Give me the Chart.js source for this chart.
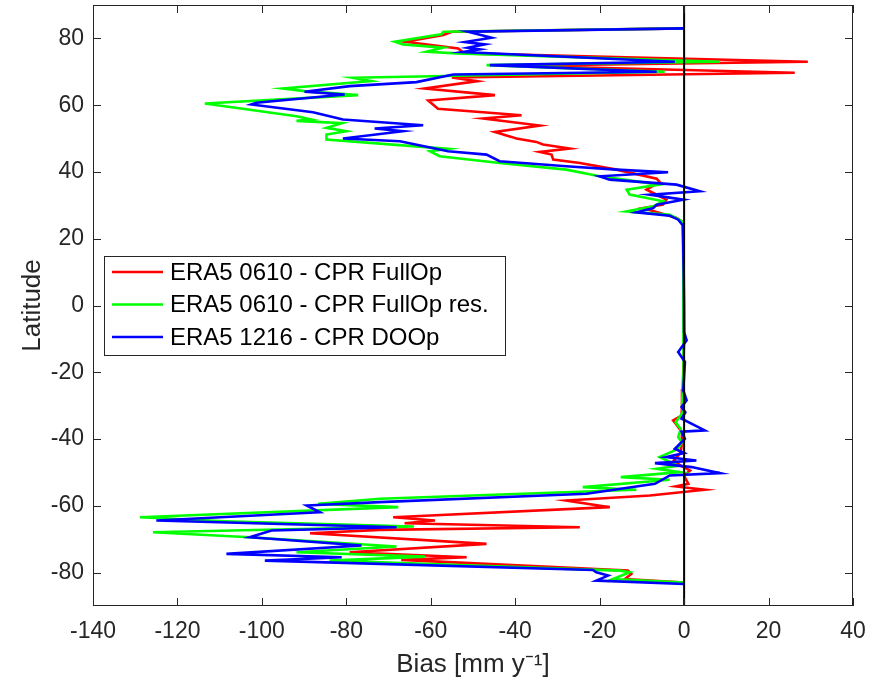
<!DOCTYPE html>
<html>
<head>
<meta charset="utf-8">
<script src="https://cdn.jsdelivr.net/npm/chart.js@4/dist/chart.umd.min.js"></script>
<style>
  html, body { margin: 0; padding: 0; background: #fff; }
</style>
</head>
<body>
<canvas id="chart1" width="885" height="689"></canvas>
<script>
"use strict"

// axis ticks
const xTicks = [-140, -120, -100, -80, -60, -40, -20, 0, 20, 40]
const yTicks = [-80, -60, -40, -20, 0, 20, 40, 60, 80]

const seriesNames = ['ERA5 0610 - CPR FullOp', 'ERA5 0610 - CPR FullOp res.', 'ERA5 1216 - CPR DOOp']

// ERA5 0610 - CPR FullOp (latitude, bias)
const latRed = [83, 82, 81, 79, 77, 75.5, 73, 71.8, 69.7, 68.3, 67.2, 65, 63, 61.4, 58.9, 57, 56, 53.9, 52, 50.5,
    50, 49, 48.2, 47, 46, 45.2, 43.7, 42.7, 40.7, 38, 37, 34.7, 33.7, 31.7, 30.2, 29.2, 26.2, 25, 20, 10,
    0, -10, -20, -25, -30, -33, -34.4, -36.4, -38, -42, -44, -46.4, -48, -49.4, -51, -53.4, -54.2, -55.2, -56.9, -58.4,
    -60.4, -63.4, -64.4, -65.2, -66.4, -67.2, -68.2, -71.4, -73.9, -75.4, -76.2, -79.4, -80.4, -81.9, -83]
const biasRed = [0, -55, -57, -66, -53.5, -52, 29.3, -40, 26.2, -55, -49, -61.4, -44.8, -60.6, -58.3, -38.5, -47.6, -34.2, -44.8, -40.9,
    -39.7, -35, -33.4, -27.1, -34.2, -31.4, -31, -24.7, -16, -6.5, -5.8, -8.9, -7.3, -4.2, -5, -9.7, -1.8, -0.3, -0.2, -0.1,
    -0.1, 0, -0.2, -0.3, -0.5, -0.6, -2.6, -1.4, -0.5, -0.6, -0.8, -2.4, -0.8, 1.4, 0, 1, -2, 4.9, -8.1, -27.9,
    -17.6, -68.9, -59, -66.2, -24.7, -72.1, -88.6, -46.8, -79.2, -51.5, -67, -13.3, -12.5, -14, 0]

// ERA5 0610 - CPR FullOp res.
const latGreen = [83, 82, 81.2, 79, 78.2, 77.2, 76, 75.5, 73, 72, 70, 68.2, 67.2, 65, 64.2, 63, 60.5, 56.7, 55.7, 55.3,
    54.6, 53.2, 52.2, 51.2, 49.7, 47.5, 46.9, 46.2, 44.7, 42.7, 40.7, 38.7, 36.2, 34.7, 33.2, 31.2, 29.7, 28.2, 27.2, 26.2,
    25, 10, 0, -10, -20, -30, -32, -35, -37, -39.4, -41, -43, -45.4, -48, -48.9, -49.9, -51.4, -52.2, -54.4, -55.2,
    -57.9, -59.4, -60.4, -63.4, -64.6, -66.2, -67.9, -69.4, -72.2, -73.9, -75.2, -76.4, -79.4, -79.9, -81.9, -83]
const biasGreen = [0, -57, -57.5, -68.5, -66.6, -57.1, -61, -53.9, 8.5, -46.8, -4.6, -78.4, -74.1, -95, -89.9, -77.2, -113.5, -91.8, -88.3, -91.8,
    -81, -84.7, -80, -84.7, -84.7, -62, -55.9, -60.2, -57.9, -43.7, -27.9, -20, -5.8, -13.6, -12.9, -5, -7.3, -13.6, -3.4, -1.8,
    -0.3, -0.2, -0.1, -0.1, -0.2, -0.5, -0.3, -2, -0.8, -1.4, -0.5, -1.5, -5.8, -1.4, -6.5, -1, -15, -3.4, -24, -11.3,
    -72, -86.7, -67.7, -128.9, -108.8, -64, -125.8, -102.9, -68.1, -91.8, -61.4, -84, -15.2, -12.9, -16.8, 0]

// ERA5 1216 - CPR DOOp
const latBlue = [83, 82, 80.2, 78.9, 78.2, 77.2, 76.7, 75.9, 73, 72, 70, 69.2, 66.9, 65.7, 64, 63.2, 60.7, 60.2, 57.9, 55.7,
    54, 53, 52.2, 50, 49.2, 46.2, 45.2, 43.2, 41.7, 40.7, 39.9, 38.7, 37.7, 36.2, 34.2, 33.2, 31.7, 30.2, 29.2, 27.9,
    26.9, 25.7, 24, 10, 0, -8, -10.4, -13.9, -16.9, -25.4, -28.4, -30.4, -32, -33.9, -37.4, -37.8, -39.9, -42.9, -44.2, -45.4,
    -46.4, -47.2, -48.4, -50.2, -50.9, -53.4, -56.4, -58.9, -59.9, -61.9, -64.4, -66.4, -67.4, -69.4, -71.9, -74.4, -75.4, -76.4, -79.2, -79.9,
    -80.9, -82.4, -83.4]
const biasBlue = [0, -51.2, -45.6, -51.9, -47.2, -51.2, -48.4, -52.4, -2.2, -46, -6.5, -54.7, -63.4, -79.2, -89.9, -80.4, -101.3, -102.5, -87.9, -80.8,
    -61.8, -73.3, -66.6, -80.8, -67.3, -55.9, -46.8, -43.7, -27.9, -16, -3.8, -20, -17.6, -1.8, 3.7, -8.1, -0.2, -6.5, -7.3, -11.3,
    -3.4, -1.4, -0.3, -0.1, 0, 0, 0.6, -1.4, 0.2, -0.2, 0.6, -0.6, 0.3, -0.6, 4.9, -0.6, 0.2, -2.2, 0, -4.2,
    2.9, -6.9, 1.8, 8.5, -3.4, -6.9, -23.1, -72.1, -89.4, -86.3, -125, -68.1, -97.7, -102.9, -76.4, -108.4, -81.1, -99.3, -21.6, -20.8,
    -18, -20.8, 0]

const axisColor = '#262626'
const font = 'Liberation Sans, Arial, Helvetica, sans-serif'

// lat/bias pairs -> scatter points (x = bias, y = latitude)
let toPoints = (lat, bias) => lat.map((v, i) => ({x: bias[i], y: v}))

function makeSet(i, lat, bias, color, order){
    return {
        label: seriesNames[i],
        data: toPoints(lat, bias),
        borderColor: color,
        backgroundColor: color,
        borderWidth: 2.6,
        showLine: true,
        pointRadius: 0,
        tension: 0,
        order: order
    }
}

// box, inward ticks, zero line and legend, MATLAB style
const framePlugin = {
    id: 'frame',
    afterDatasetsDraw(chart){
        const {ctx, chartArea: a, scales: {x, y}} = chart
        ctx.save()
        // zero line
        let x0 = x.getPixelForValue(0)
        ctx.strokeStyle = '#000'
        ctx.lineWidth = 2
        ctx.beginPath()
        ctx.moveTo(x0, a.top)
        ctx.lineTo(x0, a.bottom)
        ctx.stroke()

        // box
        ctx.strokeStyle = axisColor
        ctx.lineWidth = 1
        ctx.strokeRect(a.left + 0.5, a.top + 0.5, a.right - a.left - 1, a.bottom - a.top - 1)
        ctx.beginPath()
        const tl = 8
        xTicks.forEach(v => {
            let px = Math.round(x.getPixelForValue(v)) + 0.5
            ctx.moveTo(px, a.bottom); ctx.lineTo(px, a.bottom - tl)
            ctx.moveTo(px, a.top); ctx.lineTo(px, a.top + tl)
        })
        yTicks.forEach(v => {
            let py = Math.round(y.getPixelForValue(v)) + 0.5
            ctx.moveTo(a.left, py); ctx.lineTo(a.left + tl, py)
            ctx.moveTo(a.right, py); ctx.lineTo(a.right - tl, py)
        })
        ctx.stroke()

        // legend box
        const lx = 104, ly = 256, lw = 401, lh = 99
        ctx.fillStyle = '#fff'
        ctx.fillRect(lx, ly, lw, lh)
        ctx.strokeStyle = axisColor
        ctx.strokeRect(lx + 0.5, ly + 0.5, lw, lh)
        ctx.font = '24px ' + font
        ctx.textBaseline = 'middle'
        ctx.textAlign = 'left'
        chart.data.datasets.forEach((ds, i) => {
            let ry = ly + 16 + i * 32.5
            ctx.strokeStyle = ds.borderColor
            ctx.lineWidth = 2.6
            ctx.beginPath()
            ctx.moveTo(112, ry)
            ctx.lineTo(163, ry)
            ctx.stroke()
            ctx.fillStyle = '#000'
            ctx.fillText(ds.label, 170, ry + 1)
        })
        ctx.restore()
    }
}

const ctx = document.getElementById('chart1')

let myChart = new Chart(ctx, {
    type: 'scatter',
    data: {
        datasets: [
            makeSet(0, latRed, biasRed, '#ff0000', 2),
            makeSet(1, latGreen, biasGreen, '#00ff00', 1),
            makeSet(2, latBlue, biasBlue, '#0000ff', 0)
        ]
    },
    options: {
        responsive: false,
        animation: false,
        events: [],
        layout: {padding: {top: 5, right: 32, left: 0, bottom: 0}},
        plugins: {
            legend: {display: false},
            tooltip: {enabled: false}
        },
        scales: {
            x: {
                type: 'linear',
                min: -140,
                max: 40,
                afterBuildTicks: s => { s.ticks = xTicks.map(v => ({value: v})) },
                afterFit: s => { s.height = 83; s.paddingLeft = 0; s.paddingRight = 0 },
                grid: {display: false, drawTicks: false},
                border: {display: false},
                ticks: {
                    color: axisColor,
                    font: {family: font, size: 23},
                    padding: 12,
                    maxRotation: 0,
                    callback: v => String(v)
                },
                title: {
                    display: true,
                    text: 'Bias [mm y⁻¹]',
                    color: axisColor,
                    font: {family: font, size: 26},
                    padding: {top: 0, bottom: 9}
                }
            },
            y: {
                type: 'linear',
                min: -90,
                max: 90,
                afterBuildTicks: s => { s.ticks = yTicks.map(v => ({value: v})) },
                afterFit: s => { s.width = 93; s.paddingTop = 0; s.paddingBottom = 0 },
                grid: {display: false, drawTicks: false},
                border: {display: false},
                ticks: {
                    color: axisColor,
                    font: {family: font, size: 23},
                    padding: 9,
                    callback: v => String(v)
                },
                title: {
                    display: true,
                    text: 'Latitude',
                    color: axisColor,
                    font: {family: font, size: 26},
                    padding: {top: 17, bottom: 0}
                }
            }
        }
    },
    plugins: [framePlugin]
})
</script>
</body>
</html>
